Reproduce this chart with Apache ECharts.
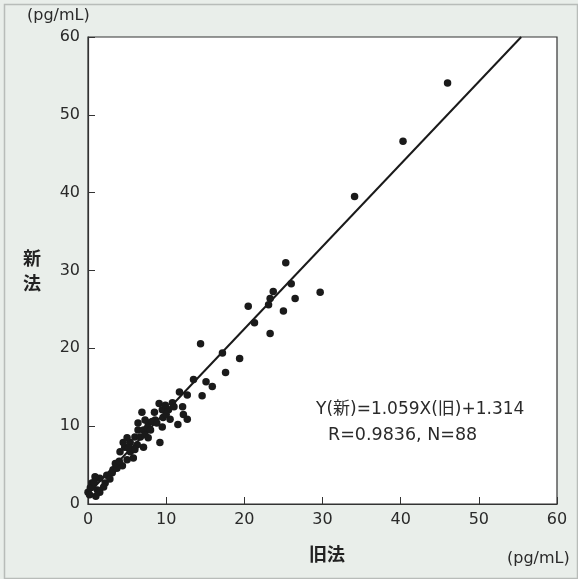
<!DOCTYPE html>
<html>
<head>
<meta charset="utf-8">
<script src="https://cdn.jsdelivr.net/npm/echarts@6/dist/echarts.min.js"></script>
<style>
html,body{margin:0;padding:0;background:#e9eeea;}
#c{width:578px;height:579px;}
</style>
</head>
<body>
<div id="c"></div>
<script>
// 旧法 (x) values and 新法 (y) values, pg/mL
const oldMethod = [46.0,40.3,34.1,29.7,25.3,26.0,23.7,23.3,23.1,26.5,20.5,25.0,21.3,23.3,14.4,17.2,19.4,17.6,13.5,15.1,15.9,
  11.7,12.7,14.6,9.1,9.5,12.1,6.9,12.2,12.7,10.5,11.5,8.6,7.7,6.4,6.4,7.1,9.2,7.7,7.1,6.0,5.4,4.7,4.1,5.8,5.4,4.4,3.2,2.4,1.5,0.9,0.5,0.3,1.2,1.5,0.0,0.6,2.2,3.1,3.7,5.0,10.3,10.8,9.9,8.2,8.8,9.6,7.6,6.7,5.0,4.5,6.3,7.3,7.3,9.5,
  2.8,1.0,0.2,3.5,5.2,6.0,8.0,10.0,11.0,8.5,4.0,2.0,0.8];
const newMethod = [54.1,46.6,39.5,27.2,31.0,28.3,27.3,26.4,25.6,26.4,25.4,24.8,23.3,21.9,20.6,19.4,18.7,16.9,16.0,15.7,15.1,
  14.4,14.0,13.9,12.9,12.1,12.5,11.8,11.5,10.9,10.9,10.2,10.8,10.4,10.4,9.5,9.5,7.9,8.5,7.3,8.6,7.9,7.3,6.7,5.9,6.7,4.9,4.4,3.7,3.3,3.5,2.7,2.1,1.8,1.5,1.5,2.2,2.7,4.0,4.6,5.7,12.1,13.0,12.7,10.6,10.4,11.1,9.8,8.6,8.5,7.9,7.6,8.9,10.8,9.9,
  3.2,1.0,1.2,5.2,7.2,7.0,9.5,11.5,12.5,11.8,5.5,2.2,2.8];
const axisTicks = [0,10,20,30,40,50,60];
const slope = 1.059, intercept = 1.314;
const eqLine1 = 'Y(新)=1.059X(旧)+1.314';
const eqLine2 = 'R=0.9836, N=88';

const points = oldMethod.map((x,i)=>[x,newMethod[i]]);
const axMax = axisTicks[axisTicks.length-1];
const lineData = [[0,intercept],[(axMax-intercept)/slope,axMax]];

const FONT = 'DejaVu Sans, Noto Sans CJK JP, sans-serif';
const chart = echarts.init(document.getElementById('c'));
const axisCommon = {
  type:'value', min:0, max:axMax, interval:10,
  axisLine:{show:true, lineStyle:{color:'#333',width:1.2}},
  axisTick:{show:true, inside:true, length:7, lineStyle:{color:'#333'}},
  axisLabel:{color:'#2a2a2a', fontSize:16, fontFamily:FONT},
  splitLine:{show:false}
};
chart.setOption({
  backgroundColor:'#e9eeea',
  animation:false,
  grid:{left:88,right:21,top:37,bottom:75,show:true,backgroundColor:'#fff',borderColor:'#333',borderWidth:1.2},
  xAxis:Object.assign({}, axisCommon, {axisLabel:Object.assign({}, axisCommon.axisLabel,{margin:8})}),
  yAxis:Object.assign({}, axisCommon, {axisLabel:Object.assign({}, axisCommon.axisLabel,{margin:8})}),
  series:[
    {type:'line', data:lineData, showSymbol:false, lineStyle:{color:'#1a1a1a',width:2}, silent:true, z:3},
    {type:'scatter', data:points, symbolSize:7.5, itemStyle:{color:'#1a1a1a',opacity:1}, z:4}
  ],
  graphic:[
    {type:'rect', left:2, top:2, shape:{width:573,height:574}, style:{fill:'none',stroke:'#b8bcb9',lineWidth:1.5}, silent:true},
    {type:'text', left:27, top:8, style:{text:'(pg/mL)', fill:'#2a2a2a', font:'16px '+FONT}},
    {type:'text', left:507, top:551, style:{text:'(pg/mL)', fill:'#2a2a2a', font:'16px '+FONT}},
    {type:'text', left:309, top:545, style:{text:'旧法', fill:'#222', font:'bold 18px Noto Sans CJK JP, sans-serif'}},
    {type:'text', left:23, top:246, style:{text:'新\n法', fill:'#222', lineHeight:25, font:'bold 18px Noto Sans CJK JP, sans-serif'}},
    {type:'text', left:316, top:401, style:{text:eqLine1, fill:'#2a2a2a', font:'17px '+FONT}},
    {type:'text', left:328, top:427, style:{text:eqLine2, fill:'#2a2a2a', font:'17.5px '+FONT}}
  ]
});
</script>
</body>
</html>
